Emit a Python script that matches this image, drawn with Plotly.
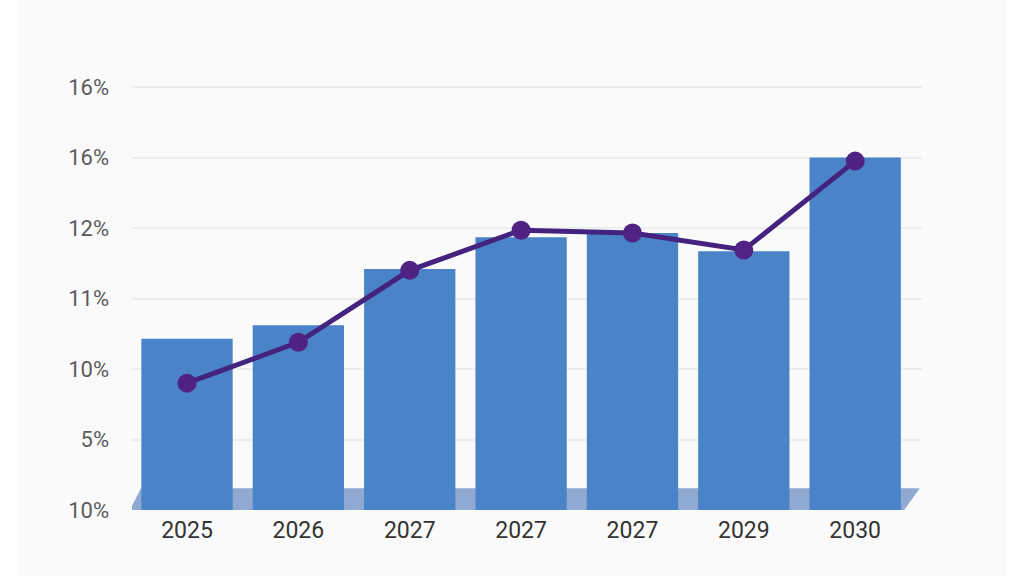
import plotly.graph_objects as go

years = ["2025", "2026", "2027", "2027", "2027", "2029", "2030"]
positions = [0, 1, 2, 3, 4, 5, 6]
barValues = [2.43, 2.62, 3.42, 3.87, 3.93, 3.67, 5.0]
lineValues = [1.80, 2.38, 3.40, 3.97, 3.93, 3.69, 4.95]
yTicks = [0, 1, 2, 3, 4, 5, 6]
yLabels = ["10%", "5%", "10%", "11%", "12%", "16%", "16%"]

fig = go.Figure()

fig.add_trace(go.Bar(x=positions, y=barValues, marker=dict(color="#4a83c8", line_width=0), width=0.82))
fig.add_trace(go.Scatter(x=positions, y=lineValues, mode="lines+markers",
                         line=dict(color="#44237f", width=5),
                         marker=dict(color="#4f2283", size=19)))

# light page panel behind everything, white strips stay left and right
fig.add_shape(type="rect", xref="paper", yref="paper", x0=-0.1443, x1=1.1076, y0=-0.16, y1=1.21,
              fillcolor="#fafafa", line_width=0, layer="below")
# slanted floor under the bars
fig.add_shape(type="path", xref="x", yref="y", layer="below", line_width=0, fillcolor="#8fa9d2",
              path="M -0.512 0 L -0.414 0.31 L 6.58 0.31 L 6.44 0 Z")

fig.update_layout(
    width=1024,
    height=576,
    margin=dict(l=132, r=102, t=85, b=66),
    paper_bgcolor="white",
    plot_bgcolor="rgba(0,0,0,0)",
    showlegend=False,
    autosize=False,
)
fig.update_xaxes(tickvals=positions, ticktext=years, range=[-0.494, 6.6], showgrid=False, zeroline=False,
                 showline=False, ticks="", ticklabelstandoff=4,
                 tickfont=dict(family="Roboto", size=23, color="#333333"))
fig.update_yaxes(tickvals=yTicks, ticktext=yLabels, range=[0, 6.03], gridcolor="#eceeee", gridwidth=2,
                 zeroline=False, showline=False, ticks="", ticklabelstandoff=22,
                 tickfont=dict(family="Roboto", size=22, color="#5c5a5c"))

# the page default margin would push the figure 8px down and right
fig.write_html("out.html", config=dict(displayModeBar=False),
               post_script="document.body.style.margin = '0';")
